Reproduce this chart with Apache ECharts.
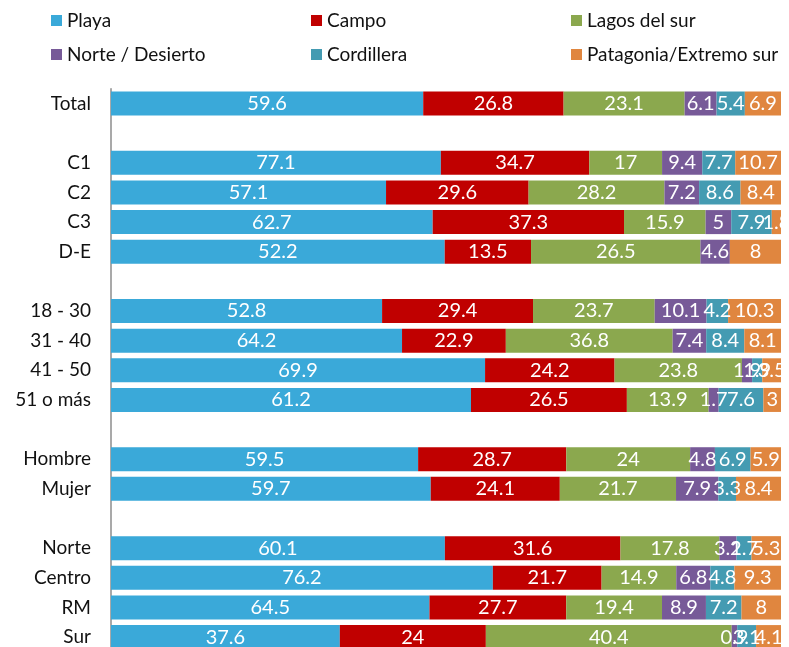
<!DOCTYPE html>
<html>
<head>
<meta charset="utf-8">
<script src="https://cdn.jsdelivr.net/npm/echarts@6/dist/echarts.min.js"></script>
<style>
  html, body { margin: 0; padding: 0; background: #fff; }
  #chart { width: 789px; height: 647px; }
</style>
</head>
<body>
<div id="chart"></div>
<script>
// categorias (las vacias son separadores)
var categories = ['Total', '', 'C1', 'C2', 'C3', 'D-E', ' ', '18 - 30', '31 - 40', '41 - 50', '51 o más',
  '  ', 'Hombre', 'Mujer', '   ', 'Norte', 'Centro', 'RM', 'Sur'];

var seriesNames = ['Playa', 'Campo', 'Lagos del sur', 'Norte / Desierto', 'Cordillera', 'Patagonia/Extremo sur'];
var colors = ['#3aa9d9', '#c00000', '#8ba84e', '#775a98', '#449bb2', '#e0863f'];

var playa      = [59.6, null, 77.1, 57.1, 62.7, 52.2, null, 52.8, 64.2, 69.9, 61.2, null, 59.5, 59.7, null, 60.1, 76.2, 64.5, 37.6];
var campo      = [26.8, null, 34.7, 29.6, 37.3, 13.5, null, 29.4, 22.9, 24.2, 26.5, null, 28.7, 24.1, null, 31.6, 21.7, 27.7, 24];
var lagos      = [23.1, null, 17, 28.2, 15.9, 26.5, null, 23.7, 36.8, 23.8, 13.9, null, 24, 21.7, null, 17.8, 14.9, 19.4, 40.4];
var norte      = [6.1, null, 9.4, 7.2, 5, 4.6, null, 10.1, 7.4, 1.9, 1.7, null, 4.8, 7.9, null, 3.1, 6.8, 8.9, 0.9];
var cordillera = [5.4, null, 7.7, 8.6, 7.9, null, null, 4.2, 8.4, 1.9, 7.6, null, 6.9, 3.3, null, 2.7, 4.8, 7.2, 3.1];
var patagonia  = [6.9, null, 10.7, 8.4, 1.8, 8, null, 10.3, 8.1, 3.5, 3, null, 5.9, 8.4, null, 5.3, 9.3, 8, 4.1];

var raw = [playa, campo, lagos, norte, cordillera, patagonia];

// totales por fila, para llevar cada barra a 100%
var totals = categories.map(function (c, i) {
  var s = 0;
  raw.forEach(function (arr) { s += arr[i] || 0; });
  return s;
});

var font = 'Lato, "Liberation Sans", sans-serif';

var series = raw.map(function (arr, k) {
  return {
    name: seriesNames[k],
    type: 'bar',
    stack: 'total',
    barCategoryGap: '19%',
    itemStyle: { color: colors[k] },
    label: {
      show: true,
      position: 'inside',
      color: '#fff',
      fontSize: 20,
      fontFamily: font,
      formatter: function (p) { return p.data.raw; }
    },
    data: arr.map(function (v, i) {
      if (v === null) return { value: null, raw: '' };
      return { value: v / totals[i] * 100, raw: v };
    })
  };
});

var myChart = echarts.init(document.getElementById('chart'));

function legendCol(left, items) {
  return {
    orient: 'vertical',
    left: left,
    top: 6,
    itemWidth: 11,
    itemHeight: 11,
    itemGap: 15,
    icon: 'rect',
    data: items,
    textStyle: { fontSize: 19, color: '#111', fontFamily: font },
    selectedMode: false
  };
}

var option = {
  animation: false,
  color: colors,
  legend: [
    legendCol(46, ['Playa', 'Norte / Desierto']),
    legendCol(306, ['Campo', 'Cordillera']),
    legendCol(566, ['Lagos del sur', 'Patagonia/Extremo sur'])
  ],
  grid: { left: 111, right: 8, top: 88.7, height: 563.2, outerBoundsMode: 'none' },
  xAxis: {
    type: 'value',
    min: 0,
    max: 100,
    show: false
  },
  yAxis: {
    type: 'category',
    inverse: true,
    data: categories,
    axisLine: { show: true, lineStyle: { color: '#8c8c8c', width: 1.5 } },
    axisTick: { show: false },
    axisLabel: { fontSize: 19, color: '#111', fontFamily: font, margin: 20 }
  },
  series: series
};

myChart.setOption(option);
</script>
</body>
</html>
